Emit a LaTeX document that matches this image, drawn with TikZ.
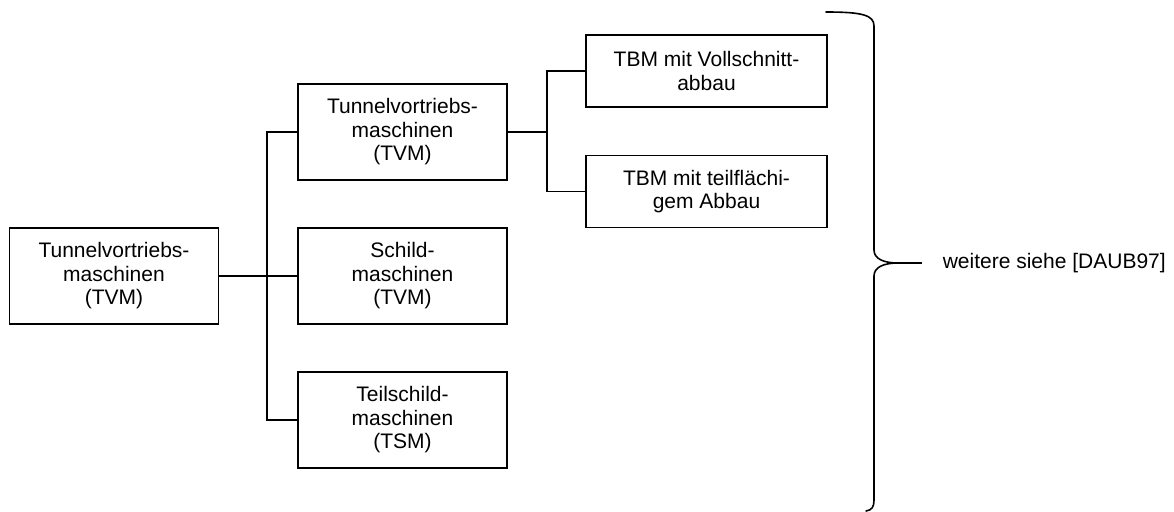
\documentclass[tikz,border=0pt]{standalone}
\usepackage{fontspec}
\setmainfont{Liberation Sans}
\begin{document}
\begin{tikzpicture}[x=1pt,y=-1pt,
  line width=1.6pt,
  box/.style={draw, align=center, inner sep=0pt,
    font=\fontsize{21}{23.5}\selectfont},
  tallbox/.style={box, minimum width=209pt, minimum height=96pt},
  widebox/.style={box, minimum width=241pt, minimum height=72pt},
  note/.style={anchor=west, inner sep=0pt, font=\fontsize{21}{23.5}\selectfont}]
\useasboundingbox (0,0) rectangle (1174,511);

% tree of machine types
\node[tallbox] (A) at (114,276)   {Tunnelvortriebs-\\maschinen\\(TVM)};
\node[tallbox] (B) at (402.5,132) {Tunnelvortriebs-\\maschinen\\(TVM)};
\node[tallbox] (C) at (402.5,276) {Schild-\\maschinen\\(TVM)};
\node[tallbox] (D) at (402.5,420) {Teilschild-\\maschinen\\(TSM)};
\node[widebox] (E) at (706.5,71)  {TBM mit Vollschnitt-\\abbau};
\node[widebox] (F) at (706.5,191.5) {TBM mit teilfl\"achi-\\gem Abbau};

\coordinate (trunk) at (267,276);
\coordinate (fork) at (547,132);

\draw (A.east) -- (C.west);
\draw (B.west) -| (trunk) |- (D.west);
\draw (B.east) -- (fork);
\draw (E.west) -| (fork) |- (F.west);

% closing brace with reference note
\coordinate (tip) at (922,263);
\node[note] (N) at (942,263) {weitere siehe [DAUB97]};
\draw[line cap=round]
  (826,12) .. controls (862,12) and (874,15) .. (874,26)
  -- (874,250) .. controls (874,259) and (884,263) .. (898,263)
  .. controls (884,263) and (874,267) .. (874,276)
  -- (874,500) .. controls (874,507) and (872,510) .. (866,511);
\draw (898,263) -- (tip);
\end{tikzpicture}
\end{document}
